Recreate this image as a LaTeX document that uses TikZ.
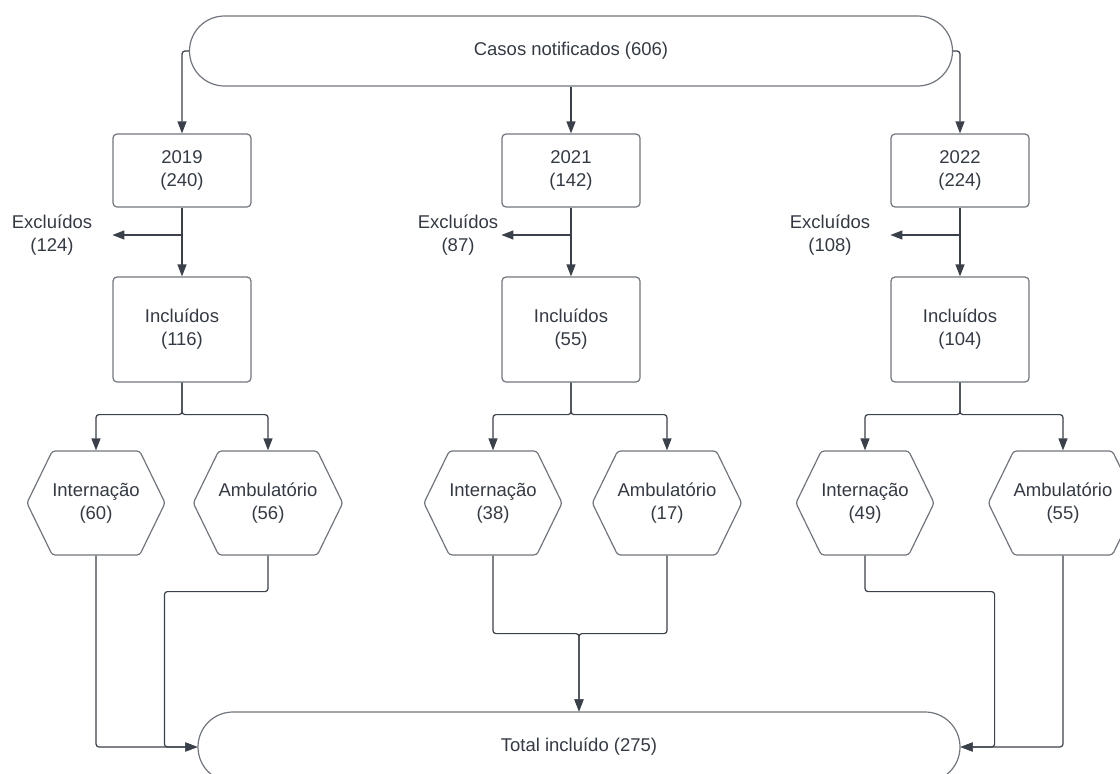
\documentclass[tikz,border=0pt]{standalone}
\usepackage{fontspec}
\setmainfont{Liberation Sans}
\usetikzlibrary{arrows.meta,shapes.misc,shapes.symbols}
\definecolor{linegray}{HTML}{3A414A}
\definecolor{boxgray}{HTML}{70757D}
\definecolor{textgray}{HTML}{343A44}

\begin{document}
\begin{tikzpicture}[x=1pt,y=-1pt,>={Triangle[length=12pt,width=9pt]},
  font=\fontsize{18.5}{23}\selectfont,text=textgray,
  line/.style={draw=linegray,line width=1.2pt,rounded corners=3pt},
  arr/.style={line,->},
  pill/.style={rounded rectangle,draw=boxgray,line width=1.2pt,
    minimum height=70pt,inner sep=0pt},
  year box/.style={rectangle,draw=boxgray,line width=1.2pt,rounded corners=4pt,
    minimum width=138pt,minimum height=73pt,align=center},
  incl box/.style={year box,minimum height=105pt},
  hex node/.style={signal,signal to=west and east,signal pointer angle=128,
    draw=boxgray,line width=1.2pt,rounded corners=3pt,
    minimum width=136pt,minimum height=104pt,align=center,inner sep=0pt},
  excl text/.style={align=center}]

  \useasboundingbox (0,0) rectangle (1120,774);

  \node[pill,minimum width=763pt] (casos) at (571,51) {Casos notificados (606)};

  % one column per year
  \node[year box] (y19) at (182,170.5) {2019\\(240)};
  \node[year box] (y21) at (571,170.5) {2021\\(142)};
  \node[year box] (y22) at (960,170.5) {2022\\(224)};

  \node[incl box] (inc19) at (182,329.5) {Incluídos\\(116)};
  \node[incl box] (inc21) at (571,329.5) {Incluídos\\(55)};
  \node[incl box] (inc22) at (960,329.5) {Incluídos\\(104)};

  \node[excl text] (exl19) at (52,235.5) {Excluídos\\(124)};
  \node[excl text] (exl21) at (458,235.5) {Excluídos\\(87)};
  \node[excl text] (exl22) at (830,235.5) {Excluídos\\(108)};
  \coordinate (ex19) at (y19.west |- 0,235);
  \coordinate (ex21) at (y21.west |- 0,235);
  \coordinate (ex22) at (y22.west |- 0,235);

  \node[hex node] (int19) at (96,503) {Internação\\(60)};
  \node[hex node] (amb19) at (268,503) {Ambulatório\\(56)};
  \node[hex node] (int21) at (493,503) {Internação\\(38)};
  \node[hex node] (amb21) at (667,503) {Ambulatório\\(17)};
  \node[hex node] (int22) at (865,503) {Internação\\(49)};
  \node[hex node] (amb22) at (1063,503) {Ambulatório\\(55)};

  \node[pill,minimum width=762pt] (total) at (579,747) {Total incluído (275)};

  % casos -> years
  \draw[arr] (casos.west) -| (y19.north);
  \draw[arr] (casos.south) -- (y21.north);
  \draw[arr] (casos.east) -| (y22.north);

  % years -> included / excluded
  \draw[arr] (y19.south) -- (inc19.north);
  \draw[arr] (y21.south) -- (inc21.north);
  \draw[arr] (y22.south) -- (inc22.north);
  \draw[arr] (y19.south |- ex19) -- (ex19);
  \draw[arr] (y21.south |- ex21) -- (ex21);
  \draw[arr] (y22.south |- ex22) -- (ex22);

  % included -> hexagons
  \draw[arr] (inc19.south) -- ++(0,32) -| (int19.north);
  \draw[arr] (inc19.south) -- ++(0,32) -| (amb19.north);
  \draw[arr] (inc21.south) -- ++(0,32) -| (int21.north);
  \draw[arr] (inc21.south) -- ++(0,32) -| (amb21.north);
  \draw[arr] (inc22.south) -- ++(0,32) -| (int22.north);
  \draw[arr] (inc22.south) -- ++(0,32) -| (amb22.north);

  % hexagons -> total
  \draw[arr] (int19.south) |- (total.west);
  \draw[arr] (amb19.south) -- ++(0,36) -| ([xshift=-33pt]total.west) -- (total.west);
  \draw[arr] (int21.south) -- ++(0,78) -| (total.north);
  \draw[arr] (amb21.south) -- ++(0,78) -| (total.north);
  \draw[arr] (int22.south) -- ++(0,36) -| ([xshift=34pt]total.east) -- (total.east);
  \draw[arr] (amb22.south) |- (total.east);

\end{tikzpicture}
\end{document}
